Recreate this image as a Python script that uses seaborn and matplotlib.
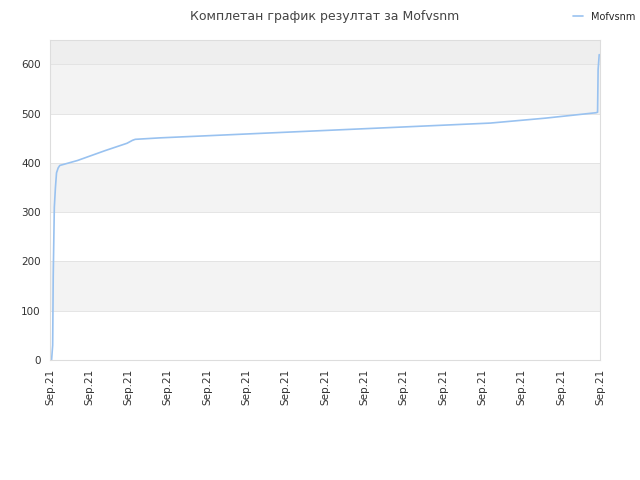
import numpy as np
import pandas as pd
import seaborn as sns
import matplotlib.pyplot as plt

# data (x as position along the time axis, 0..100)
pos = [0.3, 0.5, 0.6, 0.8, 1.0, 1.2, 1.5, 1.8, 5, 10, 14, 15, 15.5, 20, 30, 40, 50, 60, 70, 80, 90, 99.2, 99.5, 99.6, 99.8]
score = [0, 30, 170, 310, 350, 380, 390, 395, 405, 425, 440, 446, 448, 451, 456, 461, 466, 471, 476, 481, 491, 502, 503, 590, 620]
tick_labels = ["Sep.21"] * 15

df = pd.DataFrame({"pos": pos, "score": score})

sns.set_style("white")
plt.rcParams['font.family'] = ['DejaVu Sans']
fig, ax = plt.subplots(figsize=(6.4, 4.8), dpi=100)
fig.subplots_adjust(left=0.078, right=0.938, top=0.917, bottom=0.25)

# alternating horizontal bands
for lo, hi, c in [(100, 200, "#f3f3f3"), (300, 400, "#f3f3f3"), (500, 600, "#f3f3f3"), (600, 650, "#eeeeee")]:
    ax.axhspan(lo, hi, color=c, zorder=0, lw=0)
for y in range(100, 700, 100):
    ax.axhline(y, color="#e0e0e0", lw=0.6, zorder=0.5)

sns.lineplot(data=df, x="pos", y="score", ax=ax, color="#99c2f0", lw=1.2, label="Mofvsnm")

ax.set_xlim(0, 100)
ax.set_ylim(0, 650)
ax.set_yticks(range(0, 700, 100))
ax.set_xticks(np.linspace(0, 100, 15))
ax.set_xticklabels(tick_labels, rotation=90)
ax.tick_params(labelsize=7.5, colors="#333333", length=3, width=0.6, color="#cccccc")
ax.set_xlabel("")
ax.set_ylabel("")
for s in ax.spines.values():
    s.set_color("#dddddd")
    s.set_linewidth(0.8)

ax.set_title("Комплетан график резултат за Mofvsnm", fontsize=9, color="#444444", pad=14)
ax.legend(loc="upper right", bbox_to_anchor=(1.07, 1.1), frameon=False, fontsize=7,
          handlelength=1, borderaxespad=0)

plt.savefig("out.png", dpi=100)
